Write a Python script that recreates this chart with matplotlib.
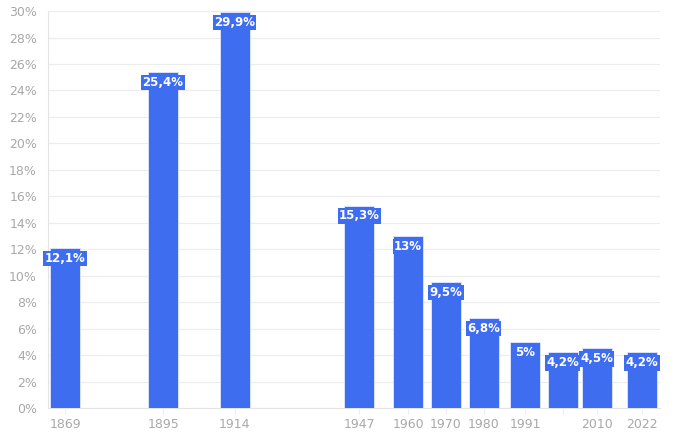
import numpy as np
import matplotlib
matplotlib.use("Agg")
from matplotlib import pyplot as plt

# Data
years = [1869, 1895, 1914, 1947, 1960, 1970, 1980, 1991, 2001, 2010, 2022]
values = [12.1, 25.4, 29.9, 15.3, 13.0, 9.5, 6.8, 5.0, 4.2, 4.5, 4.2]
tick_labels = ['1869', '1895', '1914', '1947', '1960', '1970', '1980', '1991', '', '2010', '2022']

bar_color = '#3e6def'
grey = '#a8a8a8'

def fmt(v):
    s = ('%.1f' % v).rstrip('0').rstrip('.')
    return s.replace('.', ',') + '%'

fig = plt.figure(figsize=(6.77, 4.43), dpi=100)
ax = fig.add_axes([0.071, 0.079, 0.904, 0.896])

ax.bar(years, values, width=8.0, color=bar_color, edgecolor='#e3e9fb',
       linewidth=0.6, zorder=3)

for x, v in zip(years, values):
    ax.annotate(fmt(v), (x, v), xytext=(0, -7.5), textcoords='offset points',
                ha='center', va='center', color='white', fontsize=8.5,
                fontweight='bold', zorder=4,
                bbox=dict(boxstyle='square,pad=0.1', fc=bar_color, ec='none'))

ax.set_xlim(1864.5, 2026.8)
ax.set_ylim(0, 30)
ax.set_yticks(np.arange(0, 31, 2))
ax.set_yticklabels(['%d%%' % t for t in np.arange(0, 31, 2)])
ax.set_xticks(years)
ax.set_xticklabels(tick_labels)

ax.grid(axis='y', color='#ececec', linewidth=0.8, zorder=0)
for side in ['top', 'right']:
    ax.spines[side].set_visible(False)
ax.spines['left'].set_color('#e4e4e4')
ax.spines['bottom'].set_color('#e4e4e4')
ax.tick_params(axis='y', length=0, pad=8, labelsize=9, labelcolor=grey)
ax.tick_params(axis='x', length=4, color='#eeeeee', pad=3, labelsize=9, labelcolor=grey)

plt.savefig('out.png', dpi=100)
